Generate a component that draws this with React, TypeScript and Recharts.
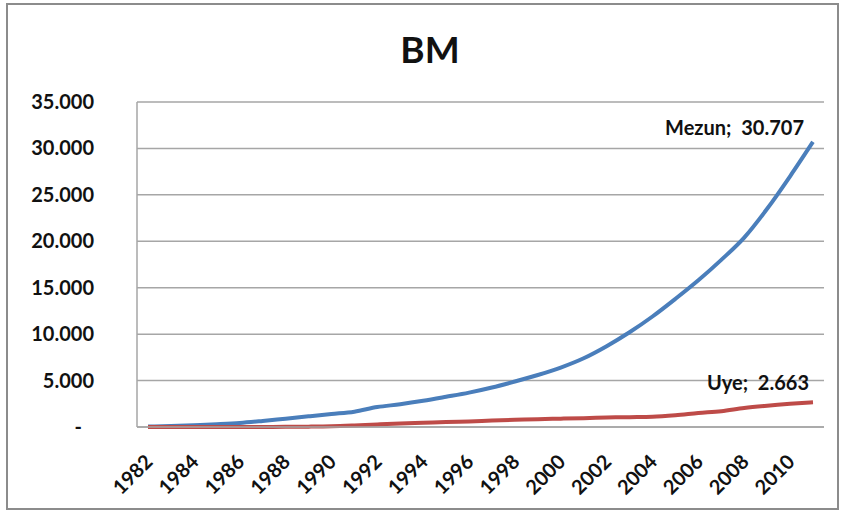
import React from "react";
import { LineChart, Line, XAxis, YAxis, CartesianGrid } from "recharts";

const years = [
  "1982", "1983", "1984", "1985", "1986", "1987", "1988", "1989", "1990", "1991",
  "1992", "1993", "1994", "1995", "1996", "1997", "1998", "1999", "2000", "2001",
  "2002", "2003", "2004", "2005", "2006", "2007", "2008", "2009", "2010", "2011",
];
const mezun = [
  50, 110, 200, 300, 430, 650, 900, 1150, 1400, 1650,
  2150, 2450, 2820, 3250, 3700, 4250, 4900, 5600, 6400, 7400,
  8700, 10200, 11900, 13800, 15800, 18000, 20400, 23500, 27000, 30707,
];
const uye = [
  0, 0, 0, 0, 0, 0, 20, 40, 80, 170,
  280, 380, 450, 540, 600, 700, 780, 840, 900, 950,
  1020, 1060, 1100, 1260, 1500, 1700, 2050, 2300, 2500, 2663,
];
const yTicks = [0, 5000, 10000, 15000, 20000, 25000, 30000, 35000];

const data = years.map((year, i) => ({ year, mezun: mezun[i], uye: uye[i] }));

const FONT = "Lato, 'Open Sans', sans-serif";

const fmt = (v: number) =>
  v === 0 ? "-" : String(v).replace(/\B(?=(\d{3})+(?!\d))/g, ".");

const YTick = (props: any) => {
  const { x, y, payload } = props;
  const isZero = payload.value === 0;
  return (
    <text
      x={isZero ? x - 12 : x}
      y={y}
      dy={7}
      textAnchor="end"
      fontFamily={FONT}
      fontWeight={700}
      fontSize={20}
      fill="#111"
    >
      {fmt(payload.value)}
    </text>
  );
};

const XTick = (props: any) => {
  const { x, y, payload } = props;
  const cx = x + 6;
  const cy = y + 28;
  return (
    <text
      x={cx}
      y={cy}
      textAnchor="end"
      transform={`rotate(-45, ${cx}, ${cy})`}
      fontFamily={FONT}
      fontWeight={700}
      fontSize={20}
      fill="#111"
    >
      {payload.value}
    </text>
  );
};

const makeLabel = (name: string, dx: number, dy: number) => (props: any) => {
  const { x, y, index, value } = props;
  if (index !== years.length - 1) return <g />;
  return (
    <text
      x={x + dx}
      y={y + dy}
      textAnchor="end"
      fontFamily={FONT}
      fontWeight={700}
      fontSize={20}
      fill="#111"
    >
      {`${name};\u00a0\u00a0${fmt(value)}`}
    </text>
  );
};

export default function App() {
  return (
    <div
      style={{
        position: "absolute",
        left: 0,
        top: 0,
        width: 844,
        height: 513,
        background: "#fff",
      }}
    >
      <div
        style={{
          position: "absolute",
          left: 6,
          top: 3,
          width: 829,
          height: 503,
          border: "2px solid #8c8c8c",
        }}
      />
      <div
        style={{
          position: "absolute",
          left: 0,
          width: 860,
          top: 26,
          textAlign: "center",
          fontFamily: FONT,
          fontWeight: 700,
          fontSize: 37,
          color: "#111",
        }}
      >
        BM
      </div>
      <div style={{ position: "absolute", left: 0, top: 0 }}>
        <LineChart
          width={844}
          height={513}
          data={data}
          margin={{ top: 102, right: 20, bottom: 0, left: 0 }}
        >
          <CartesianGrid vertical={false} stroke="#a6a6a6" strokeWidth={1.5} />
          <XAxis
            dataKey="year"
            interval={1}
            height={86}
            padding={{ left: 11, right: 11 }}
            tickLine={false}
            axisLine={{ stroke: "#a6a6a6", strokeWidth: 1.5 }}
            tick={<XTick />}
          />
          <YAxis
            width={137}
            domain={[0, 35000]}
            ticks={yTicks}
            tickSize={0}
            tickMargin={43}
            axisLine={{ stroke: "#a6a6a6", strokeWidth: 1.5 }}
            tick={<YTick />}
          />
          <Line
            dataKey="mezun"
            type="monotone"
            stroke="#4a7ebb"
            strokeWidth={4}
            dot={false}
            isAnimationActive={false}
            label={makeLabel("Mezun", -9, -7)}
          />
          <Line
            dataKey="uye"
            type="monotone"
            stroke="#be4b48"
            strokeWidth={4}
            dot={false}
            isAnimationActive={false}
            label={makeLabel("Uye", -4, -12)}
          />
        </LineChart>
      </div>
    </div>
  );
}
